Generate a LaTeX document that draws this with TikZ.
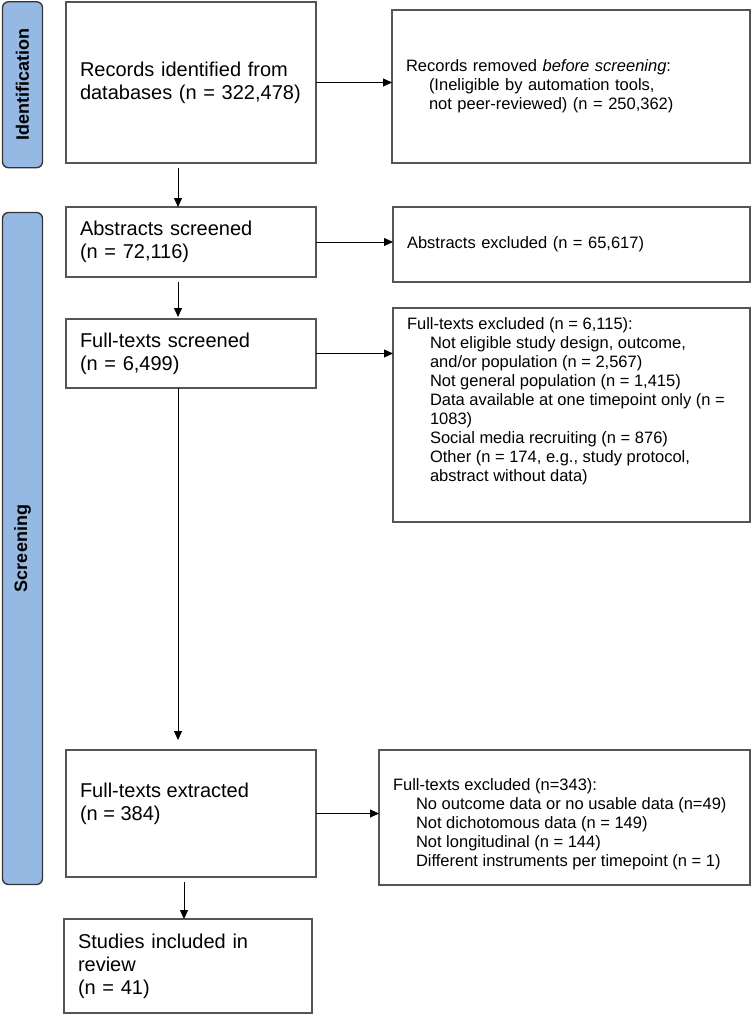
\documentclass[tikz,border=0pt]{standalone}
\usepackage{fontspec}
\setmainfont{Liberation Sans}
\usetikzlibrary{positioning, arrows.meta, calc}

\definecolor{bandblue}{RGB}{149,185,226}
\definecolor{boxgray}{RGB}{85,85,85}

\begin{document}
\begin{tikzpicture}[
    x=1pt, y=-1pt,
    box/.style={rectangle, draw=boxgray, line width=1.3pt, anchor=north west, outer sep=0pt, inner xsep=14pt, inner ysep=0pt},
    mainfont/.style={font=\fontsize{20}{23}\selectfont},
    sidefont/.style={font=\fontsize{16.5}{19}\selectfont},
    mainbox/.style={box, mainfont, text width=222pt, align=left},
    sidebox/.style={box, sidefont, align=left},
    band/.style={rectangle, rounded corners=6pt, draw=black!80, line width=1.3pt, fill=bandblue, rotate=90, minimum height=40pt, font=\fontsize{18}{21}\selectfont\bfseries},
    arrow/.style={-{Triangle[length=9pt, width=8pt]}, line width=0.8pt}
]
\useasboundingbox (0,0) rectangle (751,1015);

% phase bands
\node[band, minimum width=166pt] (idband) at (22.5,84.75) {Identification};
\node[band, minimum width=672pt] (scband) at (22.5,548.5) {Screening};

% left column
\node[mainbox, minimum height=161pt] (recid) at (66,2) {Records identified from\\databases (n = 322,478)};
\node[mainbox, minimum height=70pt] (abscr) at (66,207) {Abstracts screened\\(n = 72,116)};
\node[mainbox, minimum height=69pt] (ftscr) at (66,319) {Full-texts screened\\(n = 6,499)};
\node[box, mainfont, inner ysep=33pt, minimum height=127pt] (ftext) at (66,750)
    {\parbox[c][61pt][t]{222pt}{\selectfont\raggedright Full-texts extracted\\(n = 384)}};
\node[mainbox, text width=220pt, minimum height=94pt] (incl) at (64,919) {Studies included in\\review\\(n = 41)};

% right column
\node[sidebox, text width=330pt, minimum height=153pt] (recrem) at (392,10)
    {Records removed \textit{before screening}:\\
     \hspace*{23pt}(Ineligible by automation tools,\\
     \hspace*{23pt}not peer-reviewed) (n = 250,362)};
\node[sidebox, text width=329pt, minimum height=75pt] (absexcl) at (393,207) {Abstracts excluded (n = 65,617)};
\node[box, sidefont, inner ysep=10pt, minimum height=214pt] (ftsexcl) at (393,308)
    {\parbox[c][194pt][t]{329pt}{\selectfont\raggedright Full-texts excluded (n = 6,115):\\
     \hspace*{23pt}Not eligible study design, outcome,\\
     \hspace*{23pt}and/or population (n = 2,567)\\
     \hspace*{23pt}Not general population (n = 1,415)\\
     \hspace*{23pt}Data available at one timepoint only (n =\\
     \hspace*{23pt}1083)\\
     \hspace*{23pt}Social media recruiting (n = 876)\\
     \hspace*{23pt}Other (n = 174, e.g., study protocol,\\
     \hspace*{23pt}abstract without data)}};
\node[box, sidefont, minimum height=135pt] (ftexcl) at (379,750)
    {\parbox[c][135pt][t]{343pt}{\vspace*{29pt}\selectfont\raggedright Full-texts excluded (n=343):\\
     \hspace*{23pt}No outcome data or no usable data (n=49)\\
     \hspace*{23pt}Not dichotomous data (n = 149)\\
     \hspace*{23pt}Not longitudinal (n = 144)\\
     \hspace*{23pt}Different instruments per timepoint (n = 1)}};

% arrow columns
\coordinate (spine) at (178,0);
\coordinate (spinelow) at (184,0);

\draw[arrow, shorten <=5pt] (recid.south -| spine) -- (abscr.north -| spine);
\draw[arrow, shorten <=5pt, shorten >=2pt] (abscr.south -| spine) -- (ftscr.north -| spine);
\draw[arrow, shorten >=10pt] (ftscr.south -| spine) -- (ftext.north -| spine);
\draw[arrow, shorten <=5pt] (ftext.south -| spinelow) -- (incl.north -| spinelow);

\draw[arrow] (recid.east) -- (recid.east -| recrem.west);
\draw[arrow] (abscr.east) -- (abscr.east -| absexcl.west);
\draw[arrow] (ftscr.east) -- (ftscr.east -| ftsexcl.west);
\draw[arrow] (ftext.east) -- (ftext.east -| ftexcl.west);

\end{tikzpicture}
\end{document}
